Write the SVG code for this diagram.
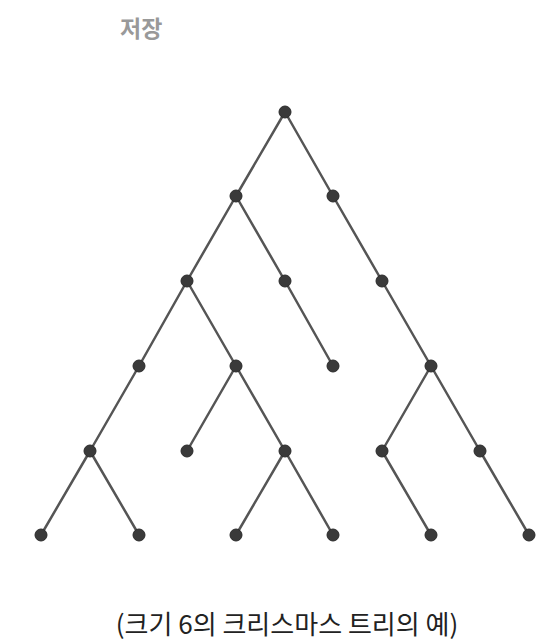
<svg xmlns="http://www.w3.org/2000/svg" width="554" height="641" viewBox="0 0 554 641">
<style>
.e{stroke:#555;stroke-width:2.5;fill:none;stroke-linecap:round}
.n{fill:#3a3a3a;stroke:#2a2a2a;stroke-width:1}
.t{font-family:"Noto Sans CJK KR","Noto Sans",sans-serif}
</style>
<rect width="554" height="641" fill="#fff"/>
<text class="t" x="120" y="37" font-size="23" font-weight="bold" fill="#999">저장</text>
<g id="connectors">
<path class="e" d="M285,112L236,196M285,112L333,196M236,196L187,281M236,196L285,281M333,196L382,281M187,281L139,366M187,281L236,366M285,281L333,366M382,281L431,366M139,366L90,451M236,366L187,451M236,366L285,451M431,366L382,451M431,366L480,451M90,451L41,535M90,451L139,535M285,451L236,535M285,451L333,535M382,451L431,535M480,451L529,535"/>
</g>
<g id="n0"><circle class="n" cx="285" cy="112" r="6"/></g>
<g id="n1"><circle class="n" cx="236" cy="196" r="6"/></g>
<g id="n2"><circle class="n" cx="333" cy="196" r="6"/></g>
<g id="n3"><circle class="n" cx="187" cy="281" r="6"/></g>
<g id="n4"><circle class="n" cx="285" cy="281" r="6"/></g>
<g id="n5"><circle class="n" cx="382" cy="281" r="6"/></g>
<g id="n6"><circle class="n" cx="139" cy="366" r="6"/></g>
<g id="n7"><circle class="n" cx="236" cy="366" r="6"/></g>
<g id="n8"><circle class="n" cx="333" cy="366" r="6"/></g>
<g id="n9"><circle class="n" cx="431" cy="366" r="6"/></g>
<g id="n10"><circle class="n" cx="90" cy="451" r="6"/></g>
<g id="n11"><circle class="n" cx="187" cy="451" r="6"/></g>
<g id="n12"><circle class="n" cx="285" cy="451" r="6"/></g>
<g id="n13"><circle class="n" cx="382" cy="451" r="6"/></g>
<g id="n14"><circle class="n" cx="480" cy="451" r="6"/></g>
<g id="n15"><circle class="n" cx="41" cy="535" r="6"/></g>
<g id="n16"><circle class="n" cx="139" cy="535" r="6"/></g>
<g id="n17"><circle class="n" cx="236" cy="535" r="6"/></g>
<g id="n18"><circle class="n" cx="333" cy="535" r="6"/></g>
<g id="n19"><circle class="n" cx="431" cy="535" r="6"/></g>
<g id="n20"><circle class="n" cx="529" cy="535" r="6"/></g>
<text class="t" x="287" y="634" font-size="26" fill="#222" text-anchor="middle">(크기 6의 크리스마스 트리의 예)</text>
</svg>
